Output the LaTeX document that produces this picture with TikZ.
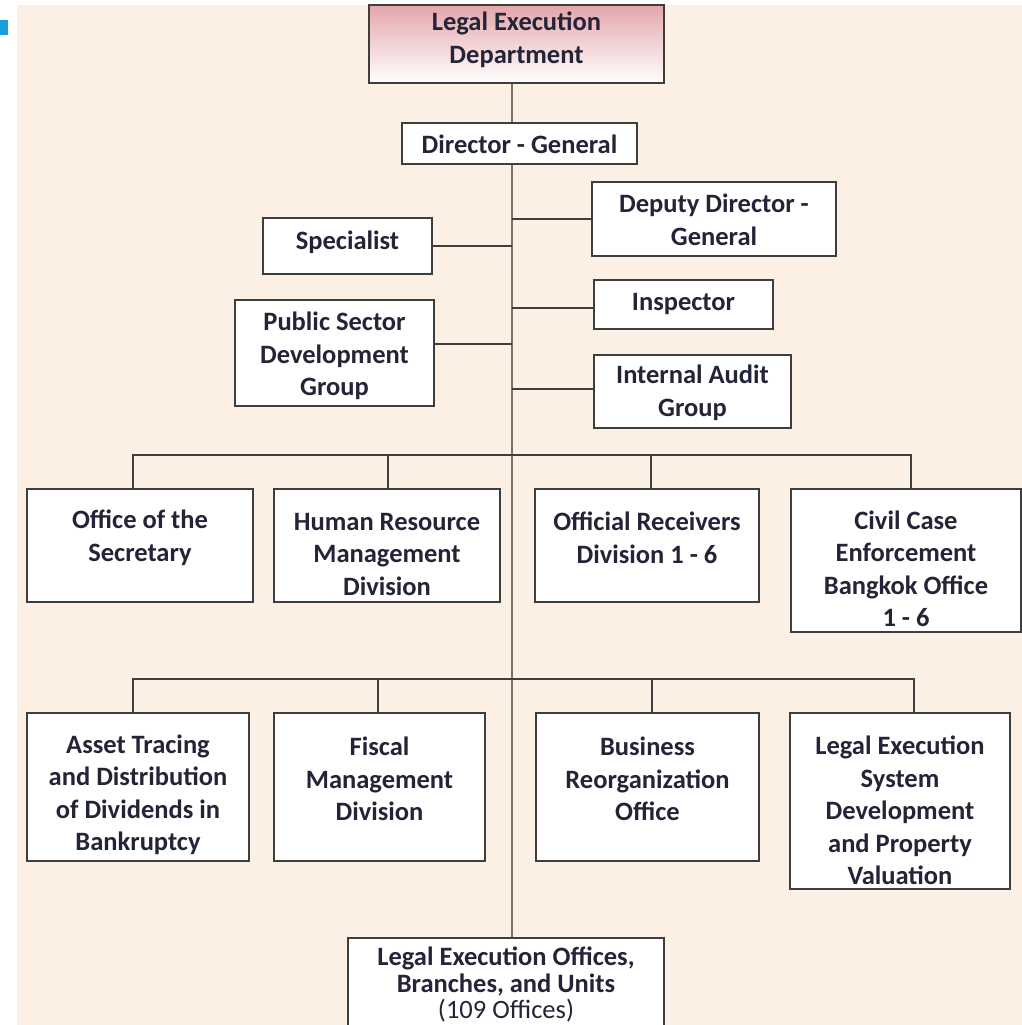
\documentclass[tikz,border=0pt]{standalone}
\usepackage{fontspec}
\setmainfont{Carlito}
\usetikzlibrary{shadows,calc}
\definecolor{bgc}{RGB}{252,240,229}
\definecolor{linec}{RGB}{62,62,62}
\definecolor{trunkc}{RGB}{120,112,106}
\definecolor{txtc}{RGB}{36,36,56}
\definecolor{rosec}{RGB}{228,166,171}
\definecolor{bluec}{RGB}{26,160,216}
\pgfdeclarelayer{bg}
\pgfsetlayers{bg,main}
\tikzset{
  orgbox/.style={draw=linec, line width=1.8pt, fill=white, inner sep=0pt,
    drop shadow={shadow xshift=1.2pt, shadow yshift=-1.2pt, opacity=0.25, fill=black}},
  lbl/.style={align=center, inner sep=0pt, text=txtc, font=\fontsize{26.5}{32.5}\selectfont\bfseries},
  lblb/.style={lbl, font=\fontsize{26.5}{26.5}\selectfont\bfseries},
  conn/.style={draw=linec, line width=1.8pt},
  trunkline/.style={draw=trunkc, line width=2pt},
}
\newcommand\obox[6][]{\node[orgbox,#1, minimum width={#5-#3}, minimum height={#6-#4}] (#2) at ({(#3+#5)/2},{(#4+#6)/2}) {};}
\begin{document}
\begin{tikzpicture}[x=1pt,y=-1pt]
\useasboundingbox (0,0) rectangle (1022,1025);
\clip (0,0) rectangle (1022,1025);
\begin{pgfonlayer}{bg}
  \fill[bgc] (17,5) rectangle (1022,1025);
  \fill[bluec] (0,20) rectangle (8,35);
\end{pgfonlayer}

% boxes
\obox[top color=rosec, bottom color=white]{ldt}{369}{5}{664}{83}
\obox{dg}{402}{123}{637}{164}
\obox{ddg}{592}{182}{836}{256}
\obox{spec}{263}{218}{432}{274}
\obox{insp}{594}{280}{773}{329}
\obox{psd}{235}{300}{434}{406}
\obox{iag}{594}{355}{791}{428}
\obox{osec}{27}{489}{253}{602}
\obox{hr}{274}{489}{500}{602}
\obox{orec}{535}{489}{759}{602}
\obox{civ}{791}{489}{1021}{632}
\obox{asset}{27}{713}{249}{861}
\obox{fisc}{274}{713}{485}{861}
\obox{bus}{536}{713}{759}{861}
\obox{les}{790}{713}{1010}{889}
\obox{bot}{348}{938}{664}{1045}

% labels
\node[lbl] (ldt-t) at (516.5,40) {Legal Execution\\Department};
\node[lbl] (dg-t) at (519.5,144.5) {Director - General};
\node[lbl] (ddg-t) at (714,220) {Deputy Director -\\General};
\node[lbl] (spec-t) at (347.5,242.5) {Specialist};
\node[lbl] (insp-t) at (683.5,303.5) {Inspector};
\node[lbl] (psd-t) at (334.5,356) {Public Sector\\Development\\Group};
\node[lbl] (iag-t) at (692.5,393) {Internal Audit\\Group};
\node[lbl] (osec-t) at (140,538) {Office of the\\Secretary};
\node[lbl] (hr-t) at (387,554) {Human Resource\\Management\\Division};
\node[lbl] (orec-t) at (647,538) {Official Receivers\\Division 1 - 6};
\node[lbl] (civ-t) at (906,569) {Civil Case\\Enforcement\\Bangkok Office\\1 - 6};
\node[lbl] (asset-t) at (138,795) {Asset Tracing\\and Distribution\\of Dividends in\\Bankruptcy};
\node[lbl] (fisc-t) at (379.5,779) {Fiscal\\Management\\Division};
\node[lbl] (bus-t) at (647.5,779) {Business\\Reorganization\\Office};
\node[lbl] (les-t) at (900,810.5) {Legal Execution\\System\\Development\\and Property\\Valuation};
\node[lblb] (bot-t) at (506,985) {Legal Execution Offices,\\Branches, and Units\\{\mdseries (109 Offices)}};

% connectors
\coordinate (tx) at (512,0);
\coordinate (bar1) at (512,455);
\coordinate (bar2) at (512,679);
\begin{pgfonlayer}{bg}
  \draw[trunkline] (ldt.south -| tx) -- (bot.north -| tx);
  \draw[conn] (ddg.west) -- (ddg.west -| tx);
  \draw[conn] (spec.east) -- (spec.east -| tx);
  \draw[conn] ([yshift=-3.5pt]insp.west) -- ([yshift=-3.5pt]insp.west -| tx);
  \draw[conn] ([yshift=9pt]psd.east) -- ([yshift=9pt]psd.east -| tx);
  \draw[conn] ([yshift=2.5pt]iag.west) -- ([yshift=2.5pt]iag.west -| tx);
  \draw[conn] ([xshift=-7pt]osec.north) |- (bar1);
  \draw[conn] ([xshift=1pt]hr.north) |- (bar1);
  \draw[conn] ([xshift=4pt]orec.north) |- (bar1);
  \draw[conn] ([xshift=5pt]civ.north) |- (bar1);
  \draw[conn] ([xshift=-5pt]asset.north) |- (bar2);
  \draw[conn] ([xshift=-1.5pt]fisc.north) |- (bar2);
  \draw[conn] ([xshift=4.5pt]bus.north) |- (bar2);
  \draw[conn] ([xshift=14pt]les.north) |- (bar2);
\end{pgfonlayer}
\end{tikzpicture}
\end{document}
